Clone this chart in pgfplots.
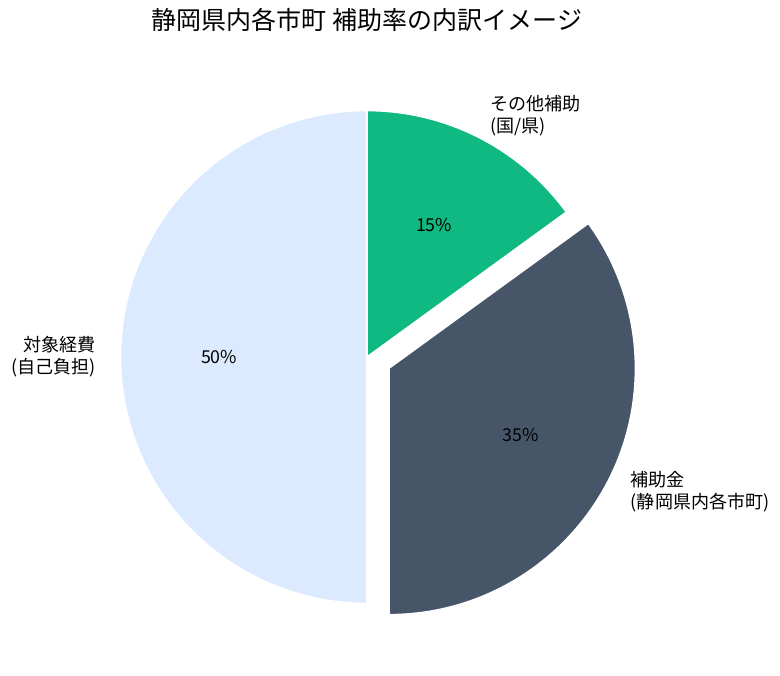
\documentclass[border=0pt]{standalone}
\usepackage{pgfplots}
\usepackage{pgfplotstable}
\pgfplotsset{compat=1.18}
\usepackage{fontspec}
\setmainfont{Noto Sans CJK JP}
\usetikzlibrary{calc}
\definecolor{cself}{HTML}{DBEAFE}
\definecolor{csub}{HTML}{475569}
\definecolor{cother}{HTML}{10B981}
\pgfplotstableread{
name value explode
self 50 0
sub 35 0.1
other 15 0
}\piedata
\begin{document}
\begin{tikzpicture}
\pgfplotstablegetelem{0}{value}\of\piedata \let\va\pgfplotsretval
\pgfplotstablegetelem{1}{value}\of\piedata \let\vb\pgfplotsretval
\pgfplotstablegetelem{2}{value}\of\piedata \let\vc\pgfplotsretval
\pgfplotstablegetelem{1}{explode}\of\piedata \let\eb\pgfplotsretval
\pgfmathtruncatemacro\pa{\va}
\pgfmathtruncatemacro\pb{\vb}
\pgfmathtruncatemacro\pc{\vc}
\pgfmathsetmacro\R{246.5*0.72}
\pgfmathsetmacro\aA{90}
\pgfmathsetmacro\aB{\aA+3.6*\va}
\pgfmathsetmacro\aC{\aB+3.6*\vb}
\pgfmathsetmacro\aD{\aC+3.6*\vc}
\pgfmathsetmacro\mA{(\aA+\aB)/2}
\pgfmathsetmacro\mB{(\aB+\aC)/2}
\pgfmathsetmacro\mC{(\aC+\aD)/2}
\pgfmathsetmacro\off{\eb*\R}
\begin{axis}[
  scale only axis, width=561.6pt, height=486pt,
  xmin=0, xmax=780, ymin=0, ymax=675, y dir=reverse,
  hide axis, clip=false,
]
\path (axis cs:0,0) rectangle (axis cs:780,675);
\coordinate (c) at (axis cs:367,357);
\coordinate (cb) at ($(c)+(\mB:\off pt)$);
% slices
\filldraw[fill=cself, draw=white, line width=1.2pt] (c) -- ($(c)+(\aA:\R pt)$) arc[start angle=\aA, end angle=\aB, radius=\R pt] -- cycle;
\filldraw[fill=csub, draw=white, line width=1.2pt] (cb) -- ($(cb)+(\aB:\R pt)$) arc[start angle=\aB, end angle=\aC, radius=\R pt] -- cycle;
\filldraw[fill=cother, draw=white, line width=1.2pt] (c) -- ($(c)+(\aC:\R pt)$) arc[start angle=\aC, end angle=\aD, radius=\R pt] -- cycle;
% percent labels
\node[font=\fontsize{12.8}{15}\selectfont] at ($(c)+(\mA:0.6*\R pt)$) {\pa\%};
\node[font=\fontsize{12.8}{15}\selectfont] at ($(cb)+(\mB:0.6*\R pt)$) {\pb\%};
\node[font=\fontsize{12.8}{15}\selectfont] at ($(c)+(\mC:0.6*\R pt)$) {\pc\%};
% outer labels
\node[anchor=east, align=right, inner sep=0pt, font=\fontsize{13}{16}\selectfont] at ($(c)+(\mA:1.1*\R pt)$) {対象経費\\(自己負担)};
\node[anchor=west, align=left, inner sep=0pt, font=\fontsize{13}{16}\selectfont] at ($(cb)+(\mB:1.1*\R pt)$) {補助金\\(静岡県内各市町)};
\node[anchor=west, align=left, inner sep=0pt, font=\fontsize{13}{16}\selectfont] at ($(c)+(\mC:1.1*\R pt)$) {その他補助\\(国/県)};
% title
\node[font=\fontsize{18}{21}\selectfont] at (axis cs:367,20) {静岡県内各市町 補助率の内訳イメージ};
\end{axis}
\end{tikzpicture}
\end{document}
